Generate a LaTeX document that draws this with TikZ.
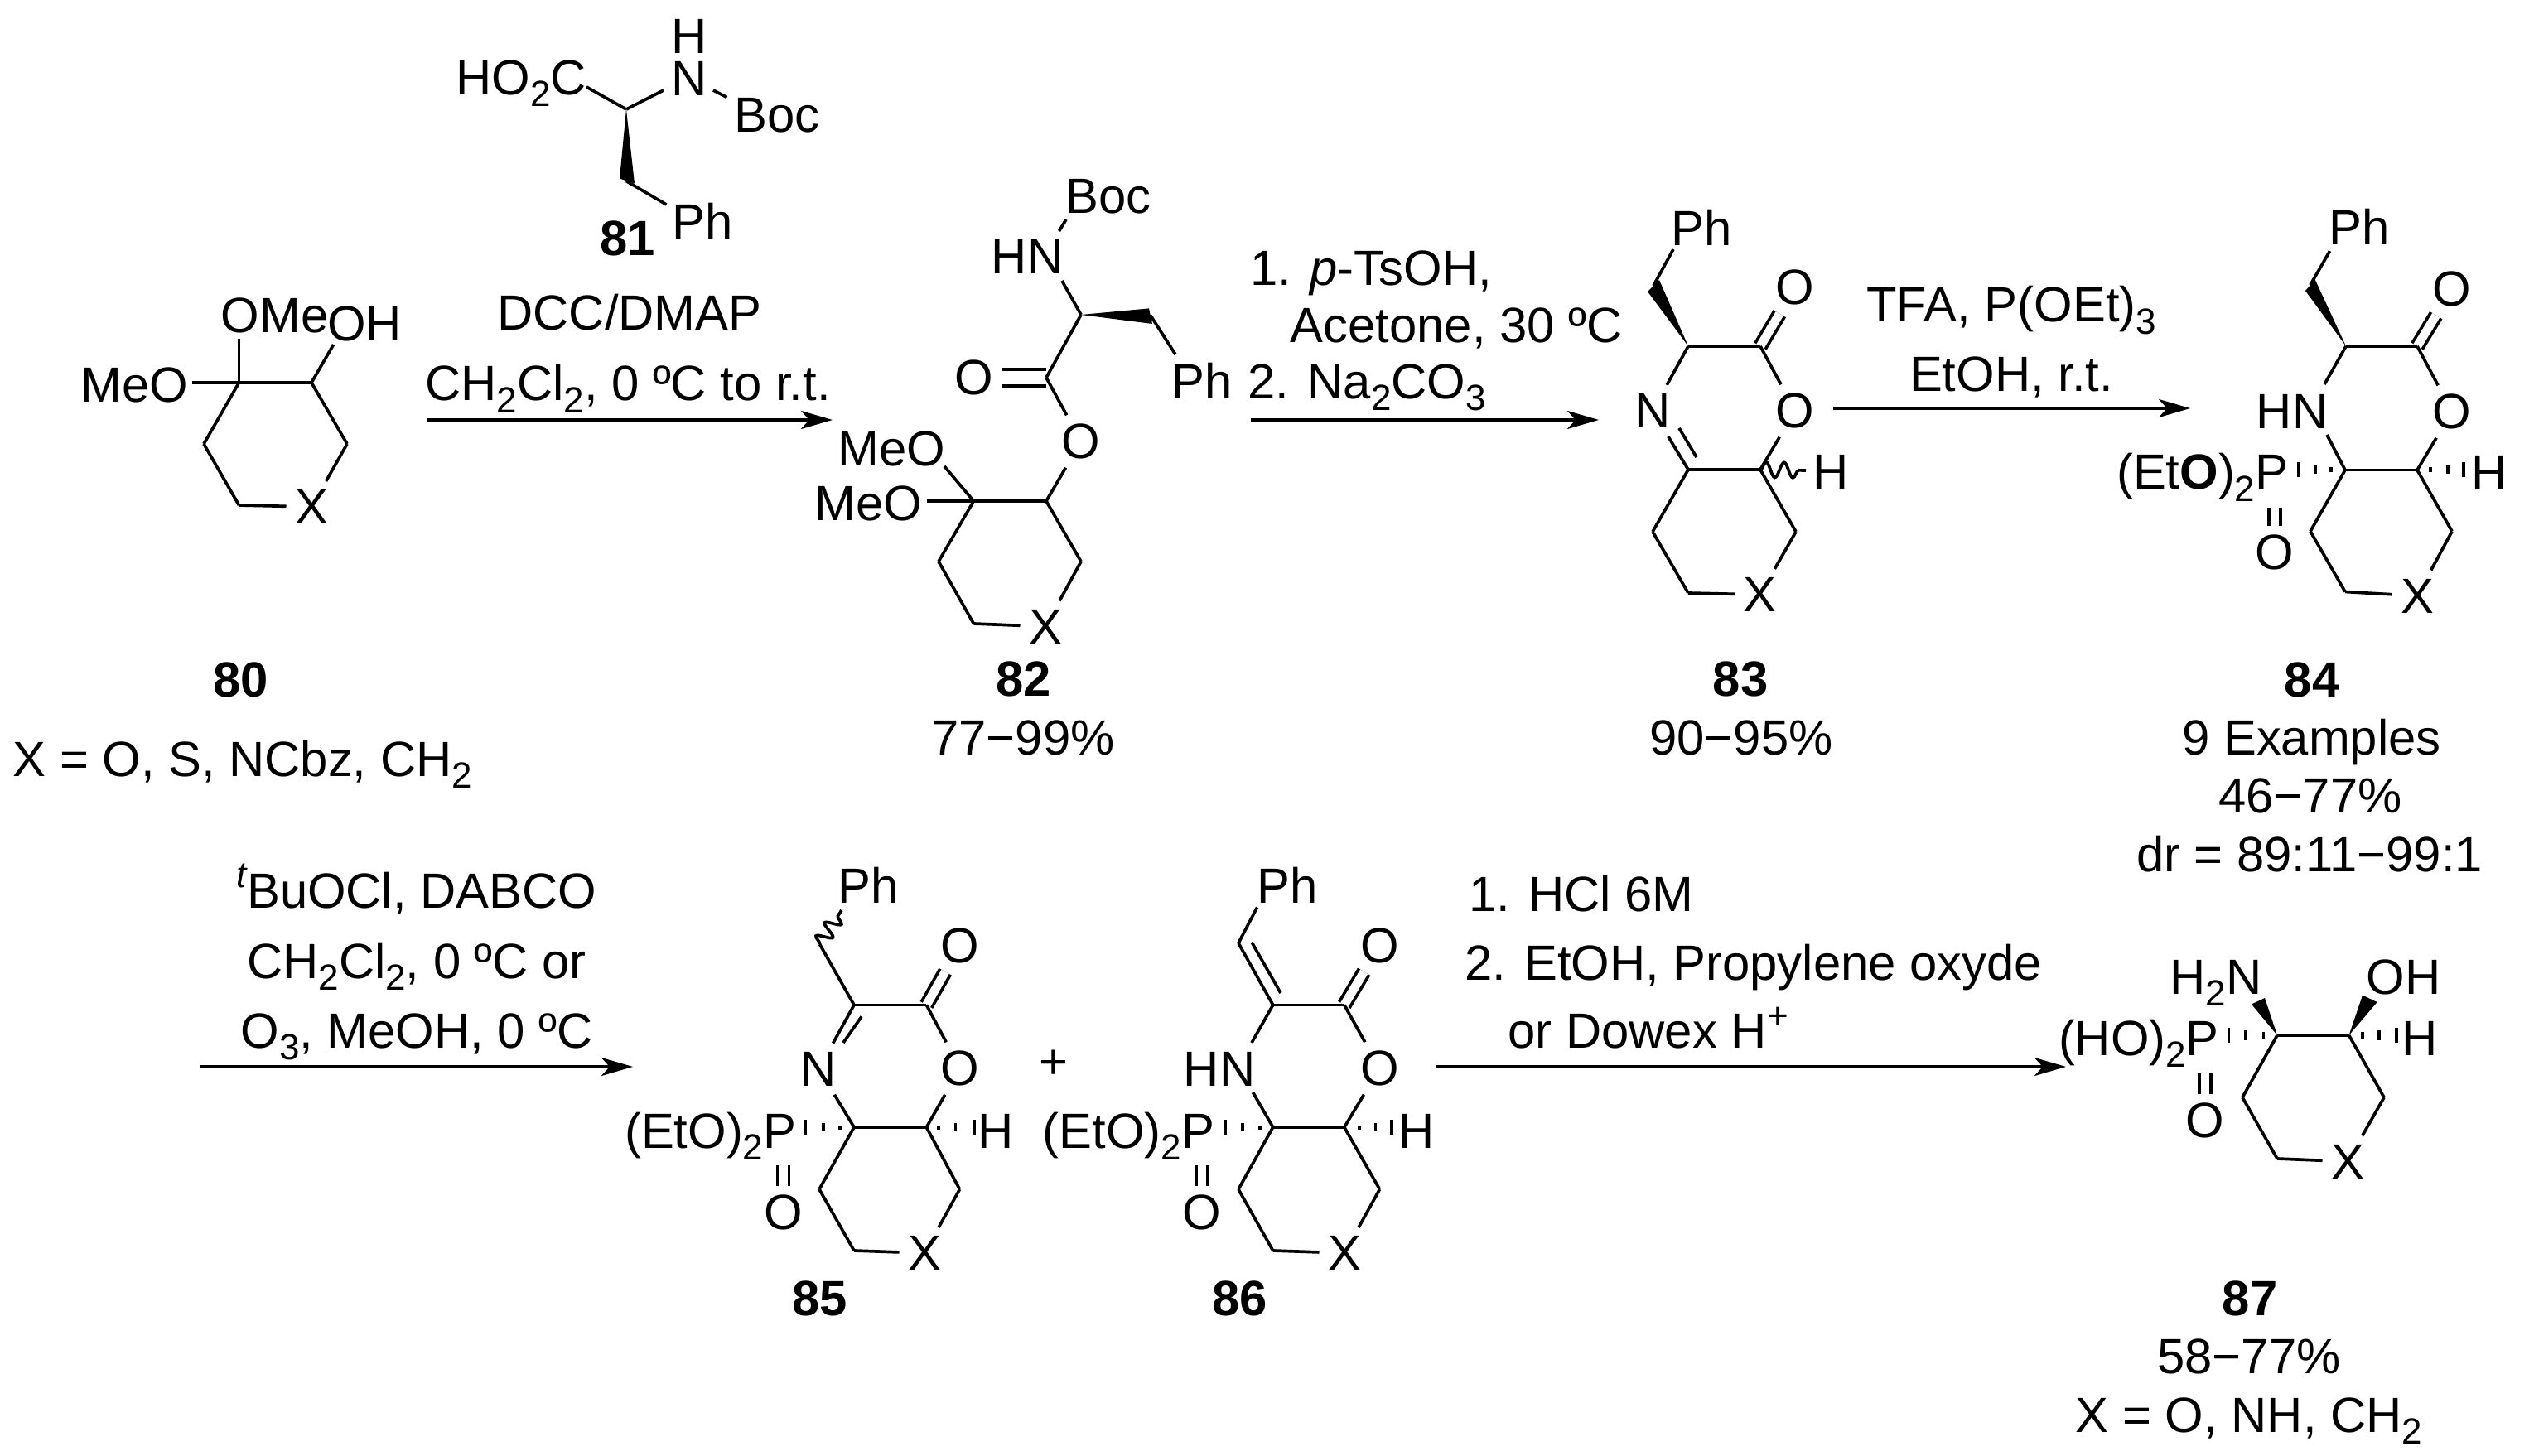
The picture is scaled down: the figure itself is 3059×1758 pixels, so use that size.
\documentclass[tikz,border=0pt]{standalone}
\usepackage{fontspec}
\setmainfont{Liberation Sans}
\usetikzlibrary{arrows.meta,decorations.pathmorphing}
\newcommand{\lowtext}[1]{\raisebox{-4pt}{\fontsize{12.5}{14}\selectfont #1}}
\newcommand{\hightext}[1]{\raisebox{7pt}{\fontsize{12.5}{14}\selectfont #1}}

\begin{document}
\begin{tikzpicture}[x=.01cm,y=-.01cm,
    every node/.style={font=\fontsize{17}{20}\selectfont,inner sep=0pt},
    bond/.style={line width=1.05pt},
    dbond/.style={line width=1.05pt,double,double distance=3pt},
    wavy/.style={bond,decorate,decoration={snake,segment length=6.2pt,amplitude=2.6pt}},
    rxn/.style={line width=1.05pt,-{Stealth[length=3.8mm,width=2.2mm,inset=1mm]}},
    atom/.style={inner sep=2.8pt},
    txt/.style={anchor=base},
    txtl/.style={anchor=base west},
    txtr/.style={anchor=base east},
    cpd/.style={font=\fontsize{17}{20}\selectfont\bfseries}]
    \useasboundingbox (0,0) rectangle (3059,1758);

    % 80
    \coordinate (a80) at (288.5,462);
    \coordinate (b80) at (376,462);
    \coordinate (c80) at (419,536);
    \coordinate (d80) at (288.5,610);
    \coordinate (e80) at (246,536);
    \node[atom] (x80) at (376,612) {X};
    \node (ome80) at (331.5,381) {OMe};
    \node (meo80) at (162.5,465) {MeO};
    \node (oh80) at (440,391) {OH};
    \coordinate (ome80b) at (288.5,409);
    \coordinate (meo80b) at (232,462);
    \coordinate (oh80b) at (402.6,416);
    \foreach \a/\b in {a80/b80,b80/c80,c80/x80,x80/d80,d80/e80,e80/a80,a80/ome80b,a80/meo80b,b80/oh80b}
        \draw[bond] (\a)--(\b);
    \node[cpd] (n80) at (291,821) {80};
    \node[txtl] (t80) at (15,937) {X = O, S, NCbz, CH\lowtext{2}};

    % 81
    \coordinate (a81) at (756,132);
    \coordinate (b81) at (756,218.6);
    \coordinate (co81) at (708,105);
    \coordinate (nl81) at (801,109);
    \coordinate (nr81) at (861,109);
    \coordinate (bc81) at (877.5,117.5);
    \coordinate (ph81b) at (804.5,247);
    \node[txtl] (acid81) at (550,114.5) {HO\lowtext{2}C};
    \node (n81) at (832,95) {N};
    \node (h81) at (832,44) {H};
    \node (boc81) at (938,139) {Boc};
    \node (ph81) at (848,267) {Ph};
    \foreach \a/\b in {co81/a81,a81/nl81,nr81/bc81,b81/ph81b}
        \draw[bond] (\a)--(\b);
    \fill (a81)--(766,221.6)--(748,215.5)--cycle;
    \node[cpd] (l81) at (758,288) {81};

    % first reaction
    \coordinate (s1) at (516,507);
    \coordinate (e1) at (1005,507);
    \draw[rxn] (s1)--(e1);
    \node[txt] (r1a) at (760,399) {DCC/DMAP};
    \node[txt] (r1b) at (758,484) {CH\lowtext{2}Cl\lowtext{2}, 0 ºC to r.t.};

    % 82
    \coordinate (a82) at (1175.4,605);
    \coordinate (b82) at (1263,605);
    \coordinate (c82) at (1305,678);
    \coordinate (d82) at (1175.4,753);
    \coordinate (e82) at (1133,678);
    \coordinate (f82) at (1263,456);
    \coordinate (g82) at (1305,380);
    \coordinate (h82) at (1389,381);
    \node[atom] (x82) at (1262,756.5) {X};
    \node[atom] (o82a) at (1176,456) {O};
    \node[atom] (o82b) at (1305,533) {O};
    \node (meo82a) at (1076.5,542) {MeO};
    \node (meo82b) at (1048.5,608) {MeO};
    \node (hn82) at (1240,309.5) {HN};
    \node (boc82) at (1338,237.5) {Boc};
    \node (ph82) at (1451,460) {Ph};
    \coordinate (meo82c) at (1140,563);
    \coordinate (meo82d) at (1118.6,605);
    \coordinate (hn82a) at (1282,339);
    \coordinate (hn82b) at (1278.5,279);
    \coordinate (boc82b) at (1287,265);
    \coordinate (ph82b) at (1419,428);
    \draw[dbond,double distance=4.5pt] (f82)--(o82a);
    \foreach \a/\b in {a82/b82,b82/c82,c82/x82,x82/d82,d82/e82,e82/a82,a82/meo82c,a82/meo82d,b82/o82b,o82b/f82,f82/g82,g82/hn82a,hn82b/boc82b,h82/ph82b}
        \draw[bond] (\a)--(\b);
    \fill (g82)--(1387,372.4)--(1391,391)--cycle;
    \node[cpd] (n82) at (1236,820) {82};
    \node[txt] (t82) at (1235,912) {77−99\%};

    % second reaction
    \coordinate (s2) at (1510,507);
    \coordinate (e2) at (1930,507);
    \draw[rxn] (s2)--(e2);
    \node[txtl] (r2a) at (1509,345) {1. \textit{p}-TsOH,};
    \node[txtl] (r2b) at (1557,414) {Acetone, 30 ºC};
    \node[txtl] (r2c) at (1506,481.5) {2. Na\lowtext{2}CO\lowtext{3}};

    % 83
    \coordinate (a83) at (2038,567);
    \coordinate (b83) at (2125,567);
    \coordinate (c83) at (2168,642);
    \coordinate (d83) at (2038,716);
    \coordinate (e83) at (1995,642);
    \coordinate (f83) at (2125,418);
    \coordinate (g83) at (2038,418);
    \coordinate (h83) at (1996,345);
    \coordinate (i83) at (2180,568);
    \node[atom] (x83) at (2124.5,718) {X};
    \node[atom] (n83) at (1995,496) {N};
    \node[atom] (o83a) at (2167,347) {O};
    \node[atom] (o83b) at (2167,496) {O};
    \node (h83l) at (2210,570) {H};
    \node (ph83) at (2054.5,274.5) {Ph};
    \coordinate (ph83b) at (2020,301);
    \draw[dbond] (f83)--(o83a);
    \foreach \a/\b in {a83/b83,b83/c83,c83/x83,x83/d83,d83/e83,e83/a83,a83/n83,n83/g83,g83/f83,f83/o83b,o83b/b83,h83/ph83b}
        \draw[bond] (\a)--(\b);
    \draw[bond] (2048,552)--(2027,517);
    \fill (g83)--(2003,338)--(1989,352)--cycle;
    \draw[wavy] (b83)--(i83);
    \node[cpd] (l83) at (2101,820) {83};
    \node[txt] (t83) at (2102,912) {90−95\%};

    % third reaction
    \coordinate (s3) at (2213,493);
    \coordinate (e3) at (2644,493);
    \draw[rxn] (s3)--(e3);
    \node[txt] (r3a) at (2428,389) {TFA, P(OEt)\lowtext{3}};
    \node[txt] (r3b) at (2428,473) {EtOH, r.t.};

    % 84
    \coordinate (a84) at (2831,567.5);
    \coordinate (b84) at (2918,567.5);
    \coordinate (c84) at (2960,641.5);
    \coordinate (d84) at (2831,714.5);
    \coordinate (e84) at (2789,641.5);
    \coordinate (f84) at (2918,418);
    \coordinate (g84) at (2832,418);
    \coordinate (h84) at (2789,344);
    \node[atom] (x84) at (2918,719.5) {X};
    \node[atom] (o84a) at (2960,349) {O};
    \node[atom] (o84b) at (2960,497) {O};
    \node[atom] (o84c) at (2746,667) {O};
    \node (hn84) at (2767,497) {HN};
    \node (h84l) at (3005,570.5) {H};
    \node (ph84) at (2848,274) {Ph};
    \node[txtr] (p84) at (2763,591) {(Et\textbf{O})\lowtext{2}P};
    \coordinate (hn84a) at (2806,464);
    \coordinate (hn84b) at (2809,525);
    \coordinate (ph84b) at (2812.6,303);
    \coordinate (pb84) at (2746,613);
    \draw[dbond] (f84)--(o84a);
    \draw[dbond] (pb84)--(o84c);
    \foreach \a/\b in {a84/b84,b84/c84,c84/x84,x84/d84,d84/e84,e84/a84,a84/hn84b,hn84a/g84,g84/f84,f84/o84b,o84b/b84,h84/ph84b}
        \draw[bond] (\a)--(\b);
    \fill (g84)--(2794.7,337.6)--(2783,351)--cycle;
    \foreach \x/\h in {2775/9,2795/5,2814/3}
        \draw[bond] (\x,567.5-\h)--(\x,567.5+\h);
    \foreach \x/\h in {2934/3,2955/5,2974/9}
        \draw[bond] (\x,567.5-\h)--(\x,567.5+\h);
    \node[cpd] (l84) at (2791,821) {84};
    \node[txt] (t84a) at (2790.5,912) {9 Examples};
    \node[txt] (t84b) at (2789,981.6) {46−77\%};
    \node[txt] (t84c) at (2788,1052) {dr = 89:11−99:1};

    % fourth reaction
    \coordinate (s4) at (241.5,1288);
    \coordinate (e4) at (764,1288);
    \draw[rxn] (s4)--(e4);
    \node[txt] (r4a) at (503,1096.6) {\hightext{\itshape t}BuOCl, DABCO};
    \node[txt] (r4b) at (503,1181) {CH\lowtext{2}Cl\lowtext{2}, 0 ºC or};
    \node[txt] (r4c) at (503,1265) {O\lowtext{3}, MeOH, 0 ºC};

    % 85
    \coordinate (a85) at (1031,1361);
    \coordinate (b85) at (1118.4,1361);
    \coordinate (c85) at (1158.5,1436);
    \coordinate (d85) at (1031,1510);
    \coordinate (e85) at (989,1436);
    \coordinate (f85) at (1118.4,1213.4);
    \coordinate (g85) at (1031,1213.4);
    \coordinate (h85) at (989.5,1140);
    \coordinate (i85) at (1016,1099);
    \node[atom] (x85) at (1116,1513) {X};
    \node[atom] (n85) at (988.5,1290.6) {N};
    \node[atom] (o85a) at (1159,1141.6) {O};
    \node[atom] (o85b) at (1159,1290) {O};
    \node[atom] (o85c) at (945.5,1464) {O};
    \node (h85l) at (1202,1366) {H};
    \node (ph85) at (1048,1069) {Ph};
    \node[txtr] (p85) at (962,1386) {(EtO)\lowtext{2}P};
    \coordinate (pb85) at (945.5,1407);
    \draw[dbond] (f85)--(o85a);
    \draw[dbond] (pb85)--(o85c);
    \foreach \a/\b in {a85/b85,b85/c85,c85/x85,x85/d85,d85/e85,e85/a85,a85/n85,n85/g85,g85/f85,f85/o85b,o85b/b85,h85/g85}
        \draw[bond] (\a)--(\b);
    \draw[bond] (1040,1227.5)--(1018,1259);
    \draw[wavy,decoration={segment length=5.4pt}] (h85)--(i85);
    \foreach \x/\h in {972/9.5,994/5,1014/2.5}
        \draw[bond] (\x,1361-\h)--(\x,1361+\h);
    \foreach \x/\h in {1133/2.5,1153.5/5,1176/9.5}
        \draw[bond] (\x,1361-\h)--(\x,1361+\h);
    \node[cpd] (l85) at (990,1568) {85};

    \node (plus) at (1272,1285) {+};

    % 86
    \coordinate (a86) at (1536.7,1361);
    \coordinate (b86) at (1622.8,1361);
    \coordinate (c86) at (1665.5,1436);
    \coordinate (d86) at (1536.7,1510);
    \coordinate (e86) at (1495,1436);
    \coordinate (f86) at (1622.8,1213.4);
    \coordinate (g86) at (1536.7,1213.4);
    \coordinate (h86) at (1495,1138.7);
    \node[atom] (x86) at (1623,1513) {X};
    \node[atom] (o86a) at (1665.5,1141.6) {O};
    \node[atom] (o86b) at (1665.5,1290) {O};
    \node[atom] (o86c) at (1451,1464) {O};
    \node (hn86) at (1472,1290.6) {HN};
    \node (h86l) at (1709.8,1366) {H};
    \node (ph86) at (1554,1069) {Ph};
    \node[txtr] (p86) at (1466.6,1386) {(EtO)\lowtext{2}P};
    \coordinate (hn86a) at (1511,1259);
    \coordinate (hn86b) at (1512.5,1319);
    \coordinate (ph86b) at (1517.6,1095.5);
    \coordinate (pb86) at (1451,1407);
    \draw[dbond] (f86)--(o86a);
    \draw[dbond] (pb86)--(o86c);
    \foreach \a/\b in {a86/b86,b86/c86,c86/x86,x86/d86,d86/e86,e86/a86,a86/hn86b,hn86a/g86,g86/f86,f86/o86b,o86b/b86,h86/g86,h86/ph86b}
        \draw[bond] (\a)--(\b);
    \draw[bond] (1511,1137.6)--(1546,1199);
    \foreach \x/\h in {1479/9.5,1500/5,1521/2.5}
        \draw[bond] (\x,1361-\h)--(\x,1361+\h);
    \foreach \x/\h in {1641/2.5,1660.5/5,1680/9.5}
        \draw[bond] (\x,1361-\h)--(\x,1361+\h);
    \node[cpd] (l86) at (1496.5,1568) {86};

    % fifth reaction
    \coordinate (s5) at (1733,1288);
    \coordinate (e5) at (2494,1288);
    \draw[rxn] (s5)--(e5);
    \node[txtl] (r5a) at (1772.7,1100.5) {1. HCl 6M};
    \node[txtl] (r5b) at (1767.6,1183.5) {2. EtOH, Propylene oxyde};
    \node[txtl] (r5c) at (1820,1265.8) {or Dowex H\hightext{+}};

    % 87
    \coordinate (a87) at (2749,1250);
    \coordinate (b87) at (2835.6,1250);
    \coordinate (c87) at (2878,1325);
    \coordinate (d87) at (2749,1399);
    \coordinate (e87) at (2707,1325);
    \node[atom] (x87) at (2834,1402.5) {X};
    \node[atom] (o87) at (2661.8,1353) {O};
    \node[txtl] (nh87) at (2619,1200.7) {H\lowtext{2}N};
    \node[txtl] (oh87) at (2856,1200.7) {OH};
    \node (h87l) at (2921,1254) {H};
    \node[txtr] (p87) at (2679.5,1274) {(HO)\lowtext{2}P};
    \coordinate (pb87) at (2661.8,1295);
    \draw[dbond] (pb87)--(o87);
    \foreach \a/\b in {a87/b87,b87/c87,c87/x87,x87/d87,d87/e87,e87/a87}
        \draw[bond] (\a)--(\b);
    \fill (a87)--(2718,1212.5)--(2734,1205)--cycle;
    \fill (b87)--(2852,1201.6)--(2869.6,1210)--cycle;
    \foreach \x/\h in {2690.4/9,2711/6,2732.6/3.8}
        \draw[bond] (\x,1250-\h)--(\x,1250+\h);
    \foreach \x/\h in {2852/3.8,2872/6,2893/9}
        \draw[bond] (\x,1250-\h)--(\x,1250+\h);
    \node[cpd] (l87) at (2716,1568) {87};
    \node[txt] (t87a) at (2715,1658) {58−77\%};
    \node[txt] (t87b) at (2715,1729.5) {X = O, NH, CH\lowtext{2}};
\end{tikzpicture}
\end{document}
